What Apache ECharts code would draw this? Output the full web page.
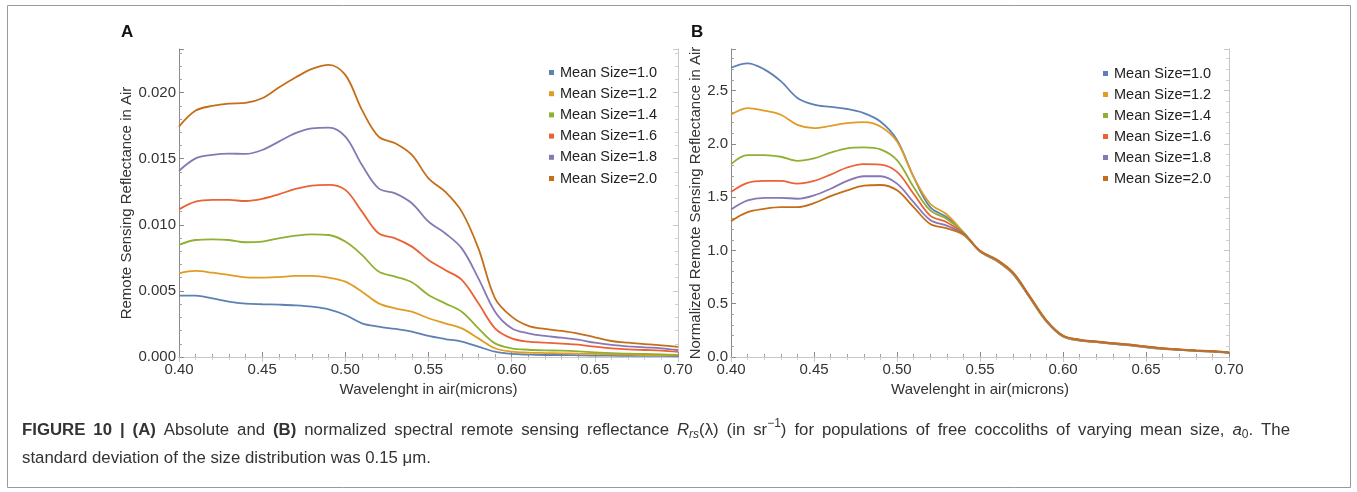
<!DOCTYPE html>
<html>
<head>
<meta charset="utf-8">
<script src="https://cdn.jsdelivr.net/npm/echarts@6/dist/echarts.min.js"></script>
<style>
html,body{margin:0;padding:0;background:#fff;}
#chart{width:1357px;height:492px;}
</style>
</head>
<body>
<div id="chart"></div>
<script>
// ---- data ----
const wavelengths = [0.40,0.41,0.42,0.43,0.44,0.45,0.46,0.47,0.48,0.49,0.50,0.51,0.52,0.53,0.54,0.55,0.56,0.57,0.58,0.59,0.60,0.61,0.62,0.63,0.64,0.65,0.66,0.67,0.68,0.69,0.70];
const seriesNames = ["Mean Size=1.0","Mean Size=1.2","Mean Size=1.4","Mean Size=1.6","Mean Size=1.8","Mean Size=2.0"];

// Panel A: absolute Rrs
const absSize10 = [0.00464,0.00464,0.00444,0.00419,0.00404,0.00399,0.00396,0.00391,0.00381,0.00361,0.00318,0.00255,0.00230,0.00212,0.00192,0.00159,0.00136,0.00116,0.00078,0.00040,0.00023,0.00018,0.00015,0.00015,0.00013,0.00010,0.00010,0.00008,0.00008,0.00008,0.00005];
const absSize12 = [0.00633,0.00651,0.00638,0.00621,0.00603,0.00600,0.00605,0.00613,0.00613,0.00600,0.00570,0.00494,0.00406,0.00368,0.00343,0.00293,0.00255,0.00217,0.00141,0.00066,0.00040,0.00033,0.00030,0.00028,0.00025,0.00023,0.00020,0.00018,0.00015,0.00015,0.00013];
const absSize14 = [0.00848,0.00885,0.00890,0.00885,0.00868,0.00873,0.00898,0.00918,0.00928,0.00923,0.00873,0.00772,0.00646,0.00608,0.00565,0.00469,0.00406,0.00343,0.00217,0.00103,0.00066,0.00055,0.00050,0.00048,0.00043,0.00035,0.00030,0.00025,0.00023,0.00020,0.00015];
const absSize16 = [0.01117,0.01175,0.01188,0.01188,0.01180,0.01196,0.01231,0.01271,0.01297,0.01302,0.01264,0.01100,0.00936,0.00898,0.00835,0.00734,0.00658,0.00583,0.00406,0.00217,0.00141,0.00116,0.00108,0.00101,0.00093,0.00078,0.00066,0.00058,0.00053,0.00048,0.00038];
const absSize18 = [0.01408,0.01503,0.01529,0.01539,0.01536,0.01566,0.01629,0.01693,0.01730,0.01735,0.01667,0.01453,0.01276,0.01238,0.01163,0.01024,0.00936,0.00822,0.00595,0.00343,0.00217,0.00179,0.00159,0.00146,0.00131,0.00108,0.00091,0.00081,0.00073,0.00066,0.00053];
const absSize20 = [0.01743,0.01864,0.01899,0.01917,0.01922,0.01957,0.02038,0.02114,0.02179,0.02210,0.02134,0.01869,0.01667,0.01617,0.01529,0.01352,0.01251,0.01100,0.00822,0.00444,0.00305,0.00235,0.00212,0.00197,0.00177,0.00149,0.00121,0.00108,0.00098,0.00088,0.00076];

// Panel B: normalized Rrs
const normSize10 = [2.714,2.755,2.699,2.588,2.431,2.368,2.346,2.327,2.289,2.210,2.037,1.690,1.406,1.311,1.170,0.990,0.902,0.776,0.555,0.334,0.192,0.154,0.139,0.123,0.110,0.091,0.076,0.066,0.057,0.050,0.038];
const normSize12 = [2.273,2.336,2.311,2.273,2.178,2.147,2.169,2.194,2.204,2.163,2.021,1.690,1.438,1.337,1.170,0.992,0.905,0.779,0.557,0.335,0.193,0.155,0.140,0.124,0.111,0.092,0.077,0.067,0.058,0.051,0.039];
const normSize14 = [1.810,1.895,1.895,1.879,1.841,1.863,1.917,1.958,1.967,1.948,1.847,1.595,1.375,1.296,1.170,0.994,0.907,0.782,0.560,0.337,0.195,0.157,0.141,0.125,0.112,0.093,0.078,0.068,0.059,0.052,0.040];
const normSize16 = [1.548,1.633,1.652,1.652,1.627,1.652,1.712,1.778,1.810,1.806,1.737,1.532,1.327,1.264,1.160,0.995,0.910,0.786,0.564,0.340,0.197,0.159,0.143,0.127,0.114,0.095,0.079,0.069,0.060,0.053,0.041];
const normSize18 = [1.384,1.469,1.494,1.494,1.485,1.516,1.579,1.652,1.696,1.696,1.627,1.453,1.286,1.233,1.154,0.996,0.912,0.789,0.567,0.342,0.199,0.161,0.145,0.129,0.116,0.097,0.081,0.070,0.061,0.054,0.042];
const normSize20 = [1.274,1.359,1.390,1.406,1.406,1.444,1.510,1.564,1.608,1.614,1.564,1.406,1.248,1.207,1.148,0.997,0.915,0.792,0.570,0.345,0.201,0.163,0.147,0.131,0.118,0.099,0.083,0.072,0.063,0.056,0.044];

const colors = ["#5E81B5","#E19C24","#8FB032","#EB6235","#8778B3","#C56E1A"];
const absSets = [absSize10,absSize12,absSize14,absSize16,absSize18,absSize20];
const normSets = [normSize10,normSize12,normSize14,normSize16,normSize18,normSize20];

const FONT = "Liberation Sans, Arial, sans-serif";
const pair = arr => wavelengths.map((w,i)=>[w,arr[i]]);

function xAx(grid, pos){
  const bottom = pos === 'bottom';
  return {
    type:'value', gridIndex:grid, position:pos, min:0.40, max:0.70, interval:0.05,
    axisLine:{show:true, lineStyle:{color: bottom ? '#8a8a8a' : '#c8c8c8', width:1}},
    axisTick:{show:true, inside:true, length:5, lineStyle:{color: bottom ? '#8a8a8a':'#c8c8c8'}},
    minorTick:{show:true, splitNumber:5, length:3, lineStyle:{color: bottom ? '#a0a0a0':'#d0d0d0'}},
    splitLine:{show:false},
    axisLabel:{show:bottom, color:'#333', fontFamily:FONT, fontSize:15, margin:5, formatter:v=>v.toFixed(2)},
    name: bottom ? 'Wavelenght in air(microns)' : '',
    nameLocation:'middle', nameGap:25,
    nameTextStyle:{color:'#333', fontFamily:FONT, fontSize:15}
  };
}
function yAx(grid, pos, max, interval, dec, name, gap){
  const left = pos === 'left';
  return {
    type:'value', gridIndex:grid, position:pos, min:0, max:max, interval:interval,
    axisLine:{show:true, lineStyle:{color: left ? '#8a8a8a' : '#c8c8c8', width:1}},
    axisTick:{show:true, inside:true, length:5, lineStyle:{color: left ? '#8a8a8a':'#c8c8c8'}},
    minorTick:{show:true, splitNumber:5, length:3, lineStyle:{color: left ? '#a0a0a0':'#d0d0d0'}},
    splitLine:{show:false},
    axisLabel:{show:left, showMaxLabel:false, color:'#333', fontFamily:FONT, fontSize:15, margin:3, formatter:v=>v.toFixed(dec)},
    name: left ? name : '',
    nameLocation:'middle', nameGap:gap,
    nameTextStyle:{color:'#333', fontFamily:FONT, fontSize:15}
  };
}

const series = [];
absSets.forEach((arr,i)=>series.push({
  name:seriesNames[i], type:'line', xAxisIndex:0, yAxisIndex:0, data:pair(arr),
  showSymbol:false, smooth:0.35, lineStyle:{width:1.8, color:colors[i]}, itemStyle:{color:colors[i]}
}));
normSets.forEach((arr,i)=>series.push({
  name:seriesNames[i], type:'line', xAxisIndex:2, yAxisIndex:2, data:pair(arr),
  showSymbol:false, smooth:0.35, lineStyle:{width:1.8, color:colors[i]}, itemStyle:{color:colors[i]}
}));

function legendAt(left, top, gap){
  return {
    left:left, top:top, orient:'vertical', data:seriesNames.map(n=>({name:n, icon:'rect'})),
    itemWidth:5, itemHeight:5, itemGap:gap, selectedMode:false,
    textStyle:{color:'#222', fontFamily:FONT, fontSize:14.5, lineHeight:14, padding:[0,0,0,1]}
  };
}

// ---- caption (justified first line) ----
const CF = 16.8;
const fonts = {
  n:CF+'px '+FONT, b:'bold '+CF+'px '+FONT, i:'italic '+CF+'px '+FONT,
  sub:'12px '+FONT, isub:'italic 12px '+FONT, sup:'12px '+FONT
};
const dy = {n:0,b:0,i:0,sub:5,isub:5,sup:-6};
const line1 = [
  [['FIGURE','b']],[['10','b']],[['|','b']],[['(A)','b']],[['Absolute','n']],[['and','n']],[['(B)','b']],
  [['normalized','n']],[['spectral','n']],[['remote','n']],[['sensing','n']],[['reflectance','n']],
  [['R','i'],['rs','isub'],['(λ)','n']],[['(in','n']],[['sr','n'],['−1','sup'],[')','n']],
  [['for','n']],[['populations','n']],[['of','n']],[['free','n']],[['coccoliths','n']],[['of','n']],
  [['varying','n']],[['mean','n']],[['size,','n']],[['a','i'],['0','sub'],['.','n']],[['The','n']]
];
const mctx = document.createElement('canvas').getContext('2d');
function mw(t,f){ mctx.font = fonts[f]; return mctx.measureText(t).width; }
const capGraphics = [];
(function(){
  const x0 = 22, x1 = 1290, yc = 430;
  const widths = line1.map(w => w.reduce((s,seg)=>s+mw(seg[0],seg[1]),0));
  const total = widths.reduce((a,b)=>a+b,0);
  const gap = (x1-x0-total)/(line1.length-1);
  let x = x0;
  line1.forEach((w,k)=>{
    let xx = x;
    w.forEach(seg=>{
      capGraphics.push({type:'text', x:xx, y:yc+dy[seg[1]], silent:true,
        style:{text:seg[0], font:fonts[seg[1]], fill:'#333', verticalAlign:'middle', align:'left'}});
      xx += mw(seg[0],seg[1]);
    });
    x += widths[k] + gap;
  });
  capGraphics.push({type:'text', x:x0, y:458, silent:true,
    style:{text:'standard deviation of the size distribution was 0.15 μm.', font:fonts.n, fill:'#333', verticalAlign:'middle', align:'left'}});
})();

const chart = echarts.init(document.getElementById('chart'), null, {renderer:'canvas'});
chart.setOption({
  animation:false,
  backgroundColor:'#fff',
  color:colors,
  grid:[
    {left:179, top:49, width:499, height:308, containLabel:false},
    {left:731, top:49, width:498, height:308, containLabel:false}
  ],
  xAxis:[ xAx(0,'bottom'), xAx(0,'top'), xAx(1,'bottom'), xAx(1,'top') ],
  yAxis:[
    yAx(0,'left',0.0233,0.005,3,'Remote Sensing Reflectance in Air',44),
    yAx(0,'right',0.0233,0.005,3,'',0),
    yAx(1,'left',2.89,0.5,1,'Normalized Remote Sensing Reflectance in Air',26),
    yAx(1,'right',2.89,0.5,1,'',0)
  ],
  legend:[ legendAt(544,60,6.2), legendAt(1098,61,6.0) ],
  series:series,
  graphic:[
    {type:'rect', shape:{x:7.5,y:5.5,width:1343,height:482}, style:{fill:null, stroke:'#9a9a9a', lineWidth:1}, silent:true},
    {type:'text', left:121, top:24, style:{text:'A', font:'bold 17px '+FONT, fill:'#111'}},
    {type:'text', left:691, top:24, style:{text:'B', font:'bold 17px '+FONT, fill:'#111'}}
  ].concat(capGraphics)
});
</script>
</body>
</html>
